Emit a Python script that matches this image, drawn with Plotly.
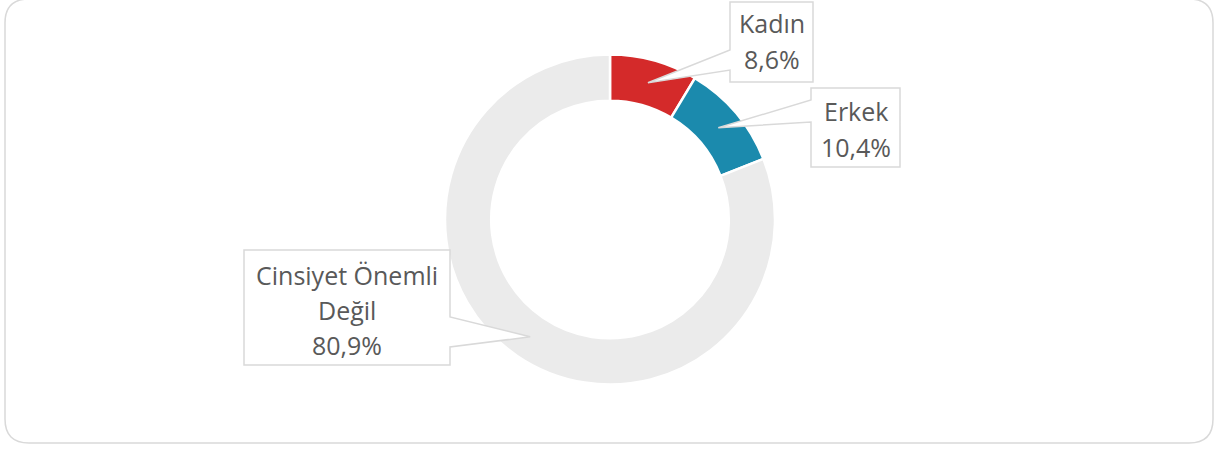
import math
import plotly.graph_objects as go

# ---- data ----
categories = ["Kadın", "Erkek", "Cinsiyet Önemli Değil"]
values = [8.6, 10.4, 80.9]
label_lines = [["Kadın"], ["Erkek"], ["Cinsiyet Önemli", "Değil"]]
colors = ["#D42A2A", "#1B8AAD", "#EBEBEB"]

# ---- layout geometry (page pixels) ----
W, H = 1219, 450
CX, CY, R = 610, 219.5, 165
HOLE = 0.72


def px(x):
    return x / W


def py(y):
    return 1 - y / H


def path(points, close=True):
    s = "M " + " L ".join(f"{px(x):.5f},{py(y):.5f}" for x, y in points)
    return s + (" Z" if close else "")


fig = go.Figure(
    go.Pie(
        labels=categories,
        values=values,
        hole=HOLE,
        sort=False,
        direction="clockwise",
        rotation=0,
        marker=dict(colors=colors, line=dict(color="white", width=2.5)),
        textinfo="none",
        hoverinfo="label+percent",
        showlegend=False,
        domain=dict(x=[px(CX - R), px(CX + R)], y=[py(CY + R), py(CY - R)]),
    )
)

# tip points at the middle of each slice
total = sum(values)
tips = []
cum = 0
rm = R * (1 + HOLE) / 2
for v in values:
    mid = (cum + v / 2) / total
    th = 2 * math.pi * mid
    tips.append((CX + rm * math.sin(th), CY - rm * math.cos(th)))
    cum += v

# callout boxes: (left, top, right, bottom, side, notch_y1, notch_y2, line centers)
boxes = [
    (730, 2, 813, 82, "left", 50, 70, [23.5, 58.5]),
    (811, 88, 900, 167, "left", 100, 122, [111, 147]),
    (244, 250, 450, 365, "right", 317, 347, [274.5, 309.5, 345]),
]

shapes = []
# outer rounded frame
x0, y0, x1, y1, r = 5, -1, 1213, 443, 24
frame = (
    f"M {px(x0 + r):.5f},{py(y0):.5f} L {px(x1 - r):.5f},{py(y0):.5f} "
    f"Q {px(x1):.5f},{py(y0):.5f} {px(x1):.5f},{py(y0 + r):.5f} "
    f"L {px(x1):.5f},{py(y1 - r):.5f} "
    f"Q {px(x1):.5f},{py(y1):.5f} {px(x1 - r):.5f},{py(y1):.5f} "
    f"L {px(x0 + r):.5f},{py(y1):.5f} "
    f"Q {px(x0):.5f},{py(y1):.5f} {px(x0):.5f},{py(y1 - r):.5f} "
    f"L {px(x0):.5f},{py(y0 + r):.5f} "
    f"Q {px(x0):.5f},{py(y0):.5f} {px(x0 + r):.5f},{py(y0):.5f} Z"
)
shapes.append(dict(type="path", path=frame, xref="paper", yref="paper",
                   line=dict(color="#D9D9D9", width=1.5), layer="below"))

annotations = []
for i, (l, t, rr, b, side, n1, n2, centers) in enumerate(boxes):
    tip = tips[i]
    if side == "left":
        pts = [(l, t), (rr, t), (rr, b), (l, b), (l, n2), tip, (l, n1)]
    else:
        pts = [(l, t), (rr, t), (rr, n1), tip, (rr, n2), (rr, b), (l, b)]
    shapes.append(dict(type="path", path=path(pts), xref="paper", yref="paper",
                       fillcolor="white", line=dict(color="#D9D9D9", width=1.5),
                       layer="above"))
    lines = label_lines[i] + [f"{values[i]:.1f}%".replace(".", ",")]
    xc = (l + rr) / 2
    for txt, yc in zip(lines, centers):
        annotations.append(dict(x=px(xc), y=py(yc), xref="paper", yref="paper",
                                text=txt, showarrow=False, xanchor="center",
                                yanchor="middle",
                                font=dict(family="Open Sans", size=25, color="#595959")))

fig.update_layout(
    width=W, height=H,
    margin=dict(l=0, r=0, t=0, b=0),
    paper_bgcolor="white",
    plot_bgcolor="white",
    shapes=shapes,
    annotations=annotations,
)

fig.write_html(
    "out.html",
    config={"displayModeBar": False},
    post_script="document.body.style.margin='0';document.body.style.overflow='hidden';",
)
